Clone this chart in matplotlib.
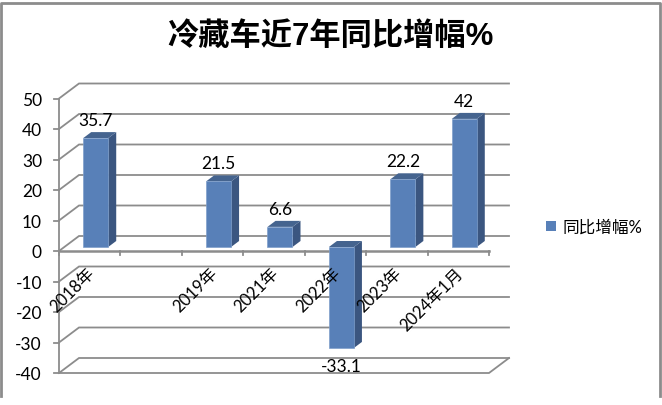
import matplotlib
matplotlib.use('Agg')
import numpy as np
import matplotlib.pyplot as plt
from matplotlib.patches import Polygon, Rectangle

plt.rcParams['font.family'] = ['Lato', 'Noto Sans CJK SC', 'DejaVu Sans']

title = '冷藏车近7年同比增幅%'
series_name = '同比增幅%'
categories = ['2018年', '', '2019年', '2021年', '2022年', '2023年', '2024年1月']
values = [35.7, np.nan, 21.5, 6.6, -33.1, 22.2, 42]
yticks = [50, 40, 30, 20, 10, 0, -10, -20, -30, -40]

W, H = 662, 406
GRID = '#8c8c8c'
FRONT = '#5880b8'
SIDE = '#3b5680'
TOP = '#45648f'

fig = plt.figure(figsize=(W/100, H/100), dpi=100)
fig.patch.set_facecolor('white')

# front plane of the fake 3d box, y in data units, x in category slots
x0, x1 = 59, 489
y_top, y_bot = 99.5, 374
ax = fig.add_axes([x0/W, 1-y_bot/H, (x1-x0)/W, (y_bot-y_top)/H])
ax.set_xlim(0, 7)
ax.set_ylim(-40, 50)
ax.axis('off')

px_x = 7/(x1-x0)
px_y = 90/(y_bot-y_top)


def off(dx, dy):
    return dx*px_x, dy*px_y


# walls
wx, wy = off(20, 15)
for v in yticks:
    ax.plot([0, wx, 7+wx], [v, v+wy, v+wy], color=GRID, lw=1.3, clip_on=False, zorder=1, solid_joinstyle='miter')
ax.plot([0, 0], [-40, 50], color=GRID, lw=1.3, clip_on=False, zorder=2)
ax.plot([0, 7, 7+wx], [-40, -40, -40+wy], color=GRID, lw=1.3, clip_on=False, zorder=2)
ax.plot([0, 7], [0, 0], color=GRID, lw=1.8, clip_on=False, zorder=2)

# axis ticks
tx, ty = off(5, 4)
for v in yticks:
    ax.plot([-tx, 0], [v, v], color=GRID, lw=1.3, clip_on=False, zorder=2)
    ax.text(-17*px_x, v-0.4, str(v), ha='right', va='center', fontsize=12.5, clip_on=False, color='black')
for i in range(8):
    ax.plot([i, i], [0, -ty], color=GRID, lw=1.3, clip_on=False, zorder=2)

# bars
bx, by = off(6, 4)
bw = 25*px_x
dx, dy = off(8, 6)
for i, v in enumerate(values):
    if np.isnan(v):
        continue
    left = i+0.5+bx-bw/2
    right = left+bw
    base = by
    end = v+by
    top = max(base, end)
    low = min(base, end)
    ax.add_patch(Polygon([(right, low), (right+dx, low+dy), (right+dx, top+dy), (right, top)], fc=SIDE, ec='none', zorder=4))
    ax.add_patch(Polygon([(left, top), (left+dx, top+dy), (right+dx, top+dy), (right, top)], fc=TOP, ec='none', zorder=4))
    ax.bar(left+bw/2, v, bw, bottom=by, color=FRONT, edgecolor='#7f9fcb', lw=0.5, zorder=5)
    if v > 0:
        ly = end+18*px_y
    else:
        ly = end-18*px_y
    ax.text(left+bw/2, ly, f'{v:g}', ha='center', va='center', fontsize=12.5, color='black', zorder=6)

# rotated category labels, anchored at their upper right end
for i, c in enumerate(categories):
    if c:
        ax.annotate(c, (i+0.5, 0), xytext=(2, -19), textcoords='offset pixels', rotation=45,
                    rotation_mode='anchor', ha='right', va='center', fontsize=12, zorder=6, color='black', annotation_clip=False)

# title and legend
fig.text(331/W, 1-37/H, title, ha='center', va='center', fontsize=22.5, fontweight='bold', color='black',
         family=['Liberation Sans', 'Noto Sans CJK SC'])
fig.patches.append(Rectangle((546/W, 1-232/H), 10/W, 10/H, transform=fig.transFigure, fc=FRONT, ec='none'))
fig.text(562/W, 1-228/H, series_name, ha='left', va='center', fontsize=12, color='black')

# chart frame, open at the bottom
frame_x = [1/W, 1/W, 660/W, 660/W]
frame_y = [1-397/H, 1-4/H, 1-4/H, 1-397/H]
fig.add_artist(plt.Line2D(frame_x, frame_y, color=GRID, lw=2))

fig.savefig('out.png', dpi=100)
